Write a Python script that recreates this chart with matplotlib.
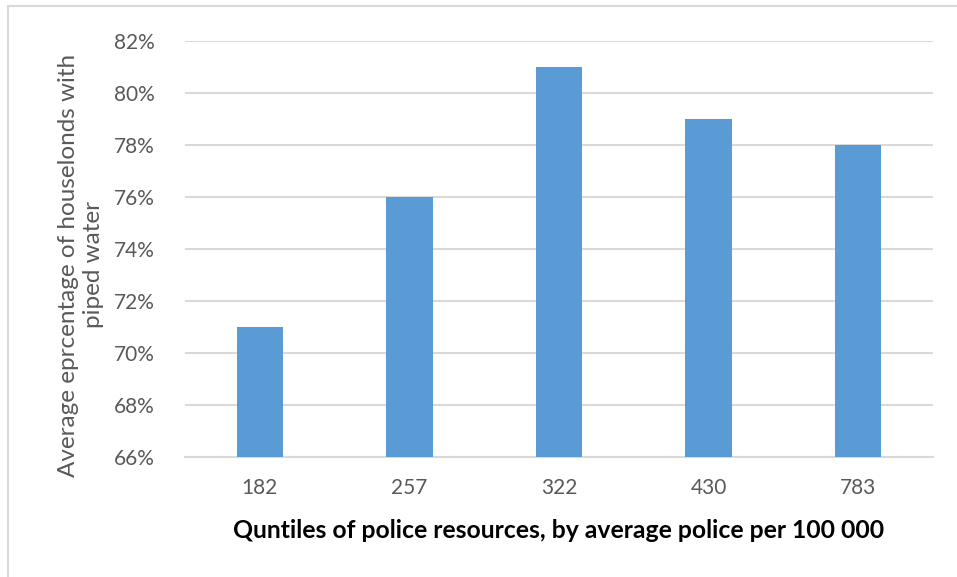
import matplotlib
matplotlib.use("Agg")
import matplotlib.pyplot as plt
from matplotlib.patches import Rectangle
from matplotlib.ticker import FuncFormatter

quintiles = ["182", "257", "322", "430", "783"]
pct_piped = [71, 76, 81, 79, 78]
y_ticks = [66, 68, 70, 72, 74, 76, 78, 80, 82]

plt.rcParams['font.family'] = ['Lato', 'DejaVu Sans']

W, H = 957, 577
fig = plt.figure(figsize=(W / 100, H / 100), dpi=100)

# outer chart frame
fig.patches.append(Rectangle((8 / W, -0.01), 1.0, 1 - 6 / H + 0.01,
                             transform=fig.transFigure, fill=False,
                             edgecolor="#D9D9D9", linewidth=1.5))

ax = fig.add_axes([185 / W, 1 - 457 / H, (933 - 185) / W, (457 - 41) / H])
x = range(len(quintiles))
ax.bar(x, [v - 66 for v in pct_piped], bottom=66, width=0.31,
       color="#5B9BD5", zorder=3)

ax.set_xlim(-0.5, len(quintiles) - 0.5)
ax.set_ylim(66, 82)
ax.set_yticks(y_ticks)
ax.yaxis.set_major_formatter(FuncFormatter(lambda v, p: f"{v:.0f}%"))
ax.set_xticks(list(x))
ax.set_xticklabels(quintiles)

ax.grid(axis="y", color="#D9D9D9", linewidth=1.5, zorder=0)
for s in ["top", "right", "left"]:
    ax.spines[s].set_visible(False)
ax.spines["bottom"].set_color("#D9D9D9")
ax.spines["bottom"].set_linewidth(1.5)
ax.tick_params(axis="both", length=0, labelsize=15, labelcolor="#595959")
ax.tick_params(axis="y", pad=22)
ax.tick_params(axis="x", pad=15)

ax.set_xlabel("Quntiles of police resources, by average police per 100 000",
              fontsize=17.8, fontweight="bold", color="black", labelpad=15)
fig.text(81 / W, 1 - 265 / H, "Average eprcentage of houselonds with\npiped water",
         rotation=90, ha="center", va="center", fontsize=17.5,
         color="#595959", linespacing=1.2)

fig.savefig("out.png", dpi=100)
